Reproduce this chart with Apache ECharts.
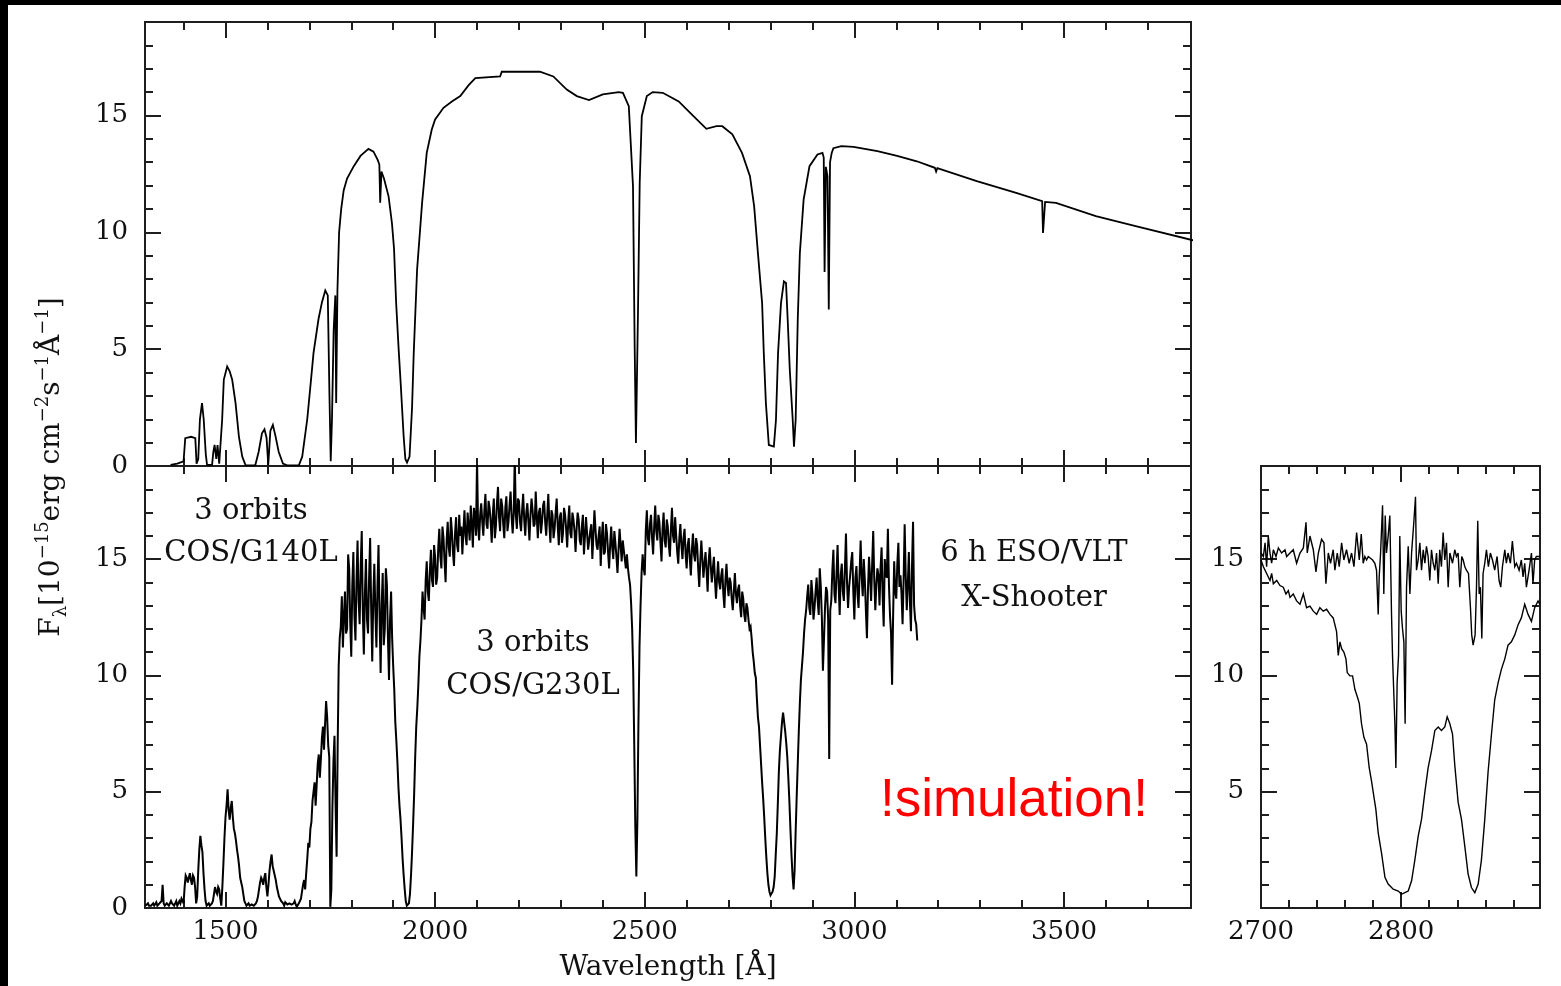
<!DOCTYPE html>
<html><head><meta charset="utf-8">
<script src="https://cdn.jsdelivr.net/npm/echarts@6/dist/echarts.min.js"></script>
<style>
html,body{margin:0;padding:0;background:#000;width:1561px;height:986px;overflow:hidden}
#paper{position:absolute;left:8px;top:5px;right:0;bottom:0;background:#fff}
#chart{position:absolute;left:0;top:0;width:1561px;height:986px}
</style></head><body>
<div id="paper"></div><div id="chart"></div>
<script>
// ---------- DATA ----------
// Top panel: model spectrum (wavelength in Angstrom, flux in 1e-15 erg/cm2/s/A)
const modelWave = [1369,1385,1400,1404,1418,1428,1431,1435,1439,1444,1448,1453,1456,1468,1471,1474,1478,1481,1485,1488,1492,1496,1504,1510,1516,1524,1532,1540,1548,1571,1579,1587,1593,1598,1602,1607,1613,1619,1627,1637,1647,1675,1683,1695,1703,1710,1722,1730,1738,1744,1748,1751,1754,1758,1762,1764,1767,1771,1776,1782,1790,1806,1822,1841,1853,1863,1867,1869,1872,1878,1889,1897,1902,1907,1913,1918,1925,1929,1933,1939,1945,1949,1957,1969,1980,1992,2000,2020,2040,2060,2080,2096,2155,2159,2250,2282,2314,2338,2367,2400,2438,2448,2462,2467,2472,2476,2479,2484,2488,2493,2505,2519,2543,2581,2609,2647,2671,2685,2709,2732,2751,2761,2770,2780,2784,2789,2796,2808,2813,2818,2825,2832,2837,2841,2846,2853,2856,2860,2865,2870,2879,2893,2912,2924,2927,2929,2932,2936,2939,2942,2946,2950,2969,2998,3055,3102,3149,3192,3195,3198,3292,3386,3448,3450,3453,3455,3481,3576,3671,3808];
const modelFlux = [0.05,0.1,0.2,1.19,1.25,1.19,0.1,0.3,2.0,2.69,2.0,0.5,0.05,0.05,0.6,0.9,0.3,0.9,0.1,0.05,1.97,3.7,4.26,4.05,3.69,2.69,1.26,0.4,0.03,0.03,0.6,1.4,1.57,1.2,0.05,1.5,1.76,1.3,0.6,0.1,0.03,0.03,0.4,2.0,3.5,4.84,6.3,7.0,7.51,7.3,3.0,0.2,2.0,5.8,7.3,2.7,7.5,10.0,11.0,11.8,12.3,12.83,13.27,13.57,13.45,13.1,12.9,11.27,12.6,12.3,11.54,10.4,9.3,7.0,5.0,3.5,1.26,0.3,0.15,0.4,2.5,4.83,8.4,11.27,13.4,14.4,14.83,15.33,15.6,15.83,16.3,16.6,16.67,16.87,16.87,16.67,16.11,15.83,15.66,15.9,16.0,15.97,15.4,13.69,11.97,5.11,0.98,6.69,12.1,14.97,15.83,16.0,15.97,15.6,15.1,14.43,14.54,14.54,14.19,13.4,12.4,11.11,9.11,6.97,4.83,2.69,0.9,0.83,1.97,4.83,6.97,7.9,7.83,6.26,4.11,1.97,0.83,1.97,6.26,9.11,11.4,12.83,13.33,13.4,13.2,8.3,12.8,12.4,6.7,13.0,13.4,13.6,13.69,13.66,13.47,13.27,13.04,12.76,12.6,12.75,12.19,11.69,11.33,9.97,9.97,11.3,11.26,10.69,10.26,9.66];

// Bottom panel: simulated COS spectrum.
// cosFlux: samples at cosStart + i*cosStep ; cosFluxMid: samples half a step later
const cosStart = 1310, cosStep = 5;
const cosFlux = [
 0.1,0.2,0.05,0.15,0.1,0.25,0.1,0.2,1.0,0.1,
 0.2,0.1,0.3,0.15,0.2,0.1,0.3,0.4,0.2,1.4,
 1.1,1.5,1.0,1.3,0.2,1.6,3.1,2.4,0.8,0.1,
 0.2,0.05,0.3,0.9,0.6,0.8,0.1,1.9,3.9,5.1,
 3.8,4.6,3.4,2.9,2.2,1.3,0.9,0.3,0.1,0.2,
 0.05,0.2,0.1,0.3,0.8,1.3,1.0,1.5,0.5,1.6,
 2.3,1.6,1.2,0.7,0.4,0.3,0.1,0.3,0.1,0.25,
 0.1,0.3,0.05,0.2,0.4,1.0,0.8,2.1,2.6,3.7,
 5.0,4.4,6.2,5.6,7.3,6.8,8.9,7.0,0.05,4.3,
 7.4,2.2,10.4,12.1,11.2,13.6,12.0,14.6,10.8,15.3,
 11.5,15.8,12.2,16.2,10.9,15.0,11.8,15.9,10.6,14.8,
 11.2,15.6,10.1,14.4,12.0,13.9,9.8,13.6,10.4,8.0,
 6.3,4.4,3.0,1.4,0.3,0.05,0.6,2.4,4.9,7.8,
 9.6,11.5,13.6,12.4,14.9,13.2,15.4,13.8,15.1,14.2,
 16.3,14.6,15.9,14.0,16.6,15.1,16.2,14.7,16.8,15.3,
 16.0,15.2,17.1,15.6,16.4,17.3,15.5,16.8,19.3,15.8,
 17.4,16.0,17.8,16.3,17.2,15.7,17.6,16.4,18.1,16.2,
 17.3,15.9,17.7,16.6,17.9,16.1,19.4,16.3,17.5,16.2,
 17.8,16.0,17.4,15.8,17.6,16.4,17.9,15.9,17.2,16.6,
 17.5,16.0,17.8,15.7,16.9,16.3,17.6,15.6,17.0,16.1,
 16.9,15.5,17.3,15.9,16.7,15.3,17.0,15.8,16.4,15.2,
 16.8,15.4,16.2,15.0,17.1,15.6,16.0,14.7,16.6,15.3,
 16.1,14.6,16.4,15.0,15.7,14.4,16.3,14.9,15.4,14.6,
 14.6,13.9,12.0,7.0,1.35,8.0,13.0,15.2,14.3,17.1,
 15.6,16.9,15.2,17.3,15.8,16.6,14.9,17.0,15.5,16.4,
 15.1,17.2,15.7,16.0,14.8,16.5,15.0,16.3,14.6,15.9,
 14.3,16.1,14.9,15.6,13.8,15.8,14.2,15.3,13.6,15.5,
 14.0,15.1,13.3,14.9,13.7,14.6,12.9,14.8,13.4,14.0,
 12.8,14.4,13.1,13.9,12.5,13.3,12.3,12.9,12.0,11.6,
 10.6,9.9,8.2,7.0,5.4,3.9,2.2,1.0,0.55,0.7,
 1.35,3.2,5.9,7.4,8.4,7.6,6.5,4.6,2.3,0.8,
 3.3,6.2,8.8,10.4,11.8,12.8,13.9,12.6,13.5,12.9,
 14.2,12.6,13.8,10.2,12.9,13.6,6.4,13.2,15.4,13.1,
 15.6,12.6,14.8,13.2,16.1,12.9,14.3,15.3,12.4,14.7,
 12.9,15.8,13.4,14.1,11.6,15.1,13.2,16.2,12.8,14.6,
 13.0,15.5,12.1,14.4,16.3,12.6,9.6,14.9,13.3,15.7,
 14.3,12.2,16.5,12.8,15.3,11.9,16.6,12.4,11.5
];
const cosFluxMid = [
 0.15,0.1,0.1,0.2,0.15,0.1,0.2,0.3,0.2,0.15,
 0.15,0.2,0.2,0.1,0.3,0.2,0.2,0.3,0.9,1.3,
 1.3,1.2,1.4,0.9,0.5,2.5,2.7,1.5,0.3,0.15,
 0.1,0.2,0.6,0.7,0.9,0.4,0.9,3.0,4.4,4.2,
 4.3,3.9,3.2,2.5,1.8,1.1,0.6,0.2,0.15,0.1,
 0.15,0.1,0.2,0.5,1.1,1.2,1.3,0.9,1.0,2.0,
 1.8,1.4,0.9,0.5,0.3,0.2,0.25,0.15,0.2,0.15,
 0.2,0.15,0.1,0.3,0.7,1.2,1.5,2.8,3.4,4.6,
 5.4,5.3,6.6,6.4,7.8,7.9,8.2,6.5,0.8,6.3,
 4.5,6.8,11.6,13.4,12.5,11.8,15.2,12.3,13.9,12.6,
 14.1,13.2,14.7,12.8,13.5,12.4,14.2,12.9,13.3,12.7,
 13.8,12.6,13.0,11.3,14.6,11.6,12.4,11.6,9.4,7.2,
 5.2,3.8,2.1,0.8,0.1,0.2,1.4,3.6,6.5,8.6,
 10.8,12.4,12.9,14.1,13.6,14.5,14.1,15.6,13.9,15.5,
 15.1,16.4,14.9,15.8,15.5,16.8,15.3,16.1,15.6,16.9,
 16.4,16.2,16.0,17.0,15.8,16.5,17.2,16.0,16.4,16.9,
 16.6,17.1,16.5,17.5,16.6,16.9,15.9,17.4,16.8,17.6,
 16.5,17.2,16.2,17.3,16.8,17.0,16.9,17.6,16.6,17.1,
 16.7,17.0,16.6,16.9,17.1,16.5,16.8,17.0,16.1,17.3,
 16.6,16.9,16.5,17.1,15.9,17.0,16.4,16.8,15.7,17.2,
 16.3,16.6,16.1,17.0,16.2,16.3,16.7,15.6,16.9,16.0,
 16.1,15.8,16.5,16.0,16.3,15.4,16.4,15.9,15.2,16.5,
 15.3,15.6,15.5,16.2,15.1,15.4,15.6,15.8,15.0,15.2,
 14.2,13.1,10.2,3.5,3.8,11.2,14.4,14.6,16.2,15.9,
 16.5,15.9,16.4,16.2,16.9,15.7,16.3,15.8,16.7,15.6,
 16.3,16.0,16.8,15.3,15.9,15.6,15.9,15.2,15.6,15.0,
 15.4,15.2,15.9,14.6,14.9,15.0,14.8,14.5,14.9,14.7,
 14.6,14.1,14.2,14.0,14.3,13.5,14.1,13.9,14.2,13.3,
 13.6,13.5,13.7,13.0,13.6,12.6,13.1,12.4,12.1,11.0,
 10.1,9.0,7.8,6.2,4.7,3.0,1.5,0.7,0.6,0.9,
 2.3,4.5,6.8,8.0,8.0,7.1,5.6,3.4,1.4,1.6,
 4.8,7.6,9.8,11.0,12.4,13.4,12.9,14.1,12.4,13.6,
 13.2,14.6,12.5,11.5,13.8,12.4,12.8,14.5,13.5,14.4,
 13.9,14.3,13.6,14.6,14.0,13.8,14.9,13.6,14.2,13.5,
 14.4,14.2,15.0,12.8,13.7,14.2,14.8,14.1,13.9,14.3,
 14.6,13.4,15.0,14.2,13.9,11.8,12.6,13.6,14.8,13.8,
 13.5,14.1,14.3,13.9,13.2,14.7,13.0,12.2
];

// Inset: X-Shooter spectrum (upper)
const xsWave = [2700.0,2701.7,2702.9,2704.0,2705.2,2706.4,2707.6,2708.8,2710.7,2712.4,2714.7,2717.1,2718.3,2720.7,2723.0,2725.4,2727.8,2730.2,2732.1,2733.0,2734.9,2737.3,2739.2,2740.9,2743.2,2744.9,2746.3,2748.0,2749.6,2751.5,2752.7,2754.4,2755.8,2757.5,2759.1,2761.0,2762.9,2764.6,2766.3,2768.2,2770.1,2771.5,2772.9,2774.1,2775.3,2776.5,2777.7,2779.6,2781.2,2782.4,2783.6,2784.3,2785.3,2786.7,2787.6,2788.6,2789.5,2790.7,2791.9,2793.1,2793.8,2794.8,2795.5,2796.2,2797.1,2798.1,2799.0,2800.0,2800.9,2801.9,2802.8,2803.8,2805.0,2806.2,2807.4,2809.0,2810.2,2810.9,2812.1,2813.3,2814.5,2815.7,2816.9,2818.0,2819.2,2820.4,2821.6,2822.8,2824.0,2825.2,2826.4,2827.5,2828.7,2829.9,2831.1,2832.3,2833.5,2834.7,2836.6,2838.2,2839.4,2840.6,2841.8,2843.2,2844.2,2845.4,2846.5,2848.0,2849.4,2850.3,2851.3,2852.7,2853.7,2854.6,2855.6,2856.5,2857.5,2858.4,2859.6,2860.8,2862.2,2863.6,2865.1,2866.7,2868.4,2869.8,2871.0,2872.2,2873.9,2875.0,2876.2,2877.9,2879.3,2881.0,2882.2,2884.1,2885.7,2886.9,2888.1,2889.3,2891.2,2892.9,2894.0,2895.2,2896.4,2898.8];
const xsFlux = [15.26,15.11,15.70,14.67,15.99,15.26,14.82,15.40,15.11,15.48,15.26,15.40,15.11,15.26,15.40,14.82,15.26,15.48,16.58,15.26,15.99,15.40,14.45,15.26,15.85,15.70,13.94,15.26,14.82,15.40,14.52,15.26,14.67,15.70,14.96,15.40,14.82,15.26,14.67,16.14,14.96,16.07,14.82,15.11,14.96,15.11,15.04,14.96,14.82,14.52,12.62,14.23,15.26,17.31,13.50,16.87,15.26,15.99,16.87,12.62,10.86,9.10,7.92,6.02,9.68,10.86,15.99,12.76,12.03,11.44,7.92,13.79,15.55,13.50,15.26,16.58,17.68,14.52,14.96,15.70,14.52,15.40,14.82,15.55,15.11,14.08,15.40,14.82,14.52,15.26,13.94,15.40,14.67,16.14,14.96,15.70,13.79,15.26,14.82,15.40,15.11,15.26,13.79,15.11,14.96,14.67,14.52,14.38,12.91,11.74,11.30,11.74,13.79,16.65,13.50,13.79,11.59,14.38,14.82,15.40,14.67,15.26,14.96,14.52,15.11,14.08,13.79,14.67,15.40,14.82,15.26,14.82,15.77,14.67,14.82,14.52,14.96,14.23,14.82,13.79,14.52,15.26,13.94,14.96,15.11,15.11];

// Inset: COS/G230L spectrum (lower)
const cosZoomWave = [2700.0,2701.7,2704.0,2706.4,2707.6,2708.8,2711.2,2713.5,2715.9,2717.8,2719.5,2720.7,2723.0,2725.4,2727.8,2730.2,2732.5,2734.9,2737.3,2739.7,2742.0,2744.4,2746.8,2749.2,2751.5,2753.9,2755.1,2756.3,2757.5,2759.1,2760.6,2761.5,2763.4,2765.3,2767.0,2768.6,2770.1,2771.7,2773.4,2775.3,2777.2,2778.9,2780.0,2781.9,2783.6,2786.0,2788.4,2790.7,2794.3,2797.9,2800.2,2802.6,2805.0,2807.4,2809.7,2812.1,2814.5,2816.9,2819.2,2821.6,2824.0,2826.4,2828.7,2831.1,2832.8,2834.7,2836.6,2838.2,2840.6,2843.0,2845.4,2847.7,2850.1,2852.5,2854.9,2857.2,2859.6,2862.0,2864.4,2866.7,2869.1,2871.5,2873.9,2876.2,2878.6,2881.0,2883.4,2885.7,2888.1,2890.5,2892.9,2895.2,2897.6,2898.8];
const cosZoomFlux = [14.96,14.67,14.38,14.08,14.38,13.94,14.08,13.86,13.79,13.50,13.64,13.35,13.50,13.20,13.06,13.50,12.91,12.98,12.76,12.62,12.91,12.76,12.84,12.62,12.47,11.88,10.86,11.44,11.15,11.00,10.71,10.12,9.98,9.98,9.39,9.10,8.80,7.92,7.34,7.04,6.02,5.43,4.99,4.25,3.23,2.35,1.32,1.03,0.81,0.73,0.59,0.66,0.73,1.17,2.05,3.08,3.81,4.99,6.02,6.75,7.63,7.78,7.63,7.78,8.22,7.92,7.48,6.16,4.55,3.81,2.64,1.47,0.88,0.66,1.03,2.05,3.81,5.87,7.48,8.95,9.68,10.27,10.71,11.30,11.44,11.74,12.18,12.47,13.06,12.62,12.32,12.91,13.20,13.06];

// Ticks and labels
const mainXMajor = [1500,2000,2500,3000,3500];
const mainXMinor = [1400,1600,1700,1800,1900,2100,2200,2300,2400,2600,2700,2800,2900,3100,3200,3300,3400,3600,3700];
const yMajor = [0,5,10,15];
const yMinor = [1,2,3,4,6,7,8,9,11,12,13,14,16,17,18];
const zoomXMajor = [2700,2800];
const zoomXMinor = [2720,2740,2760,2780,2820,2840,2860,2880];
const zoomYLabels = [5,10,15];

// ---------- CHART ----------
const cosData = [];
cosFlux.forEach((f, i) => {
  cosData.push([cosStart + i * cosStep, f]);
  if (i < cosFluxMid.length) cosData.push([cosStart + (i + 0.5) * cosStep, cosFluxMid[i]]);
});
const zip = (a, b) => a.map((v, i) => [v, b[i]]);

const AX = '#1e1e1e';
const TICKFONT = {color:'#111', fontFamily:'DejaVu Serif', fontSize:26, formatter:(v) => String(v)};
const XR = [1308, 3803], YR = [0, 19], ZR = [2700, 2899];

function axis(grid, range, pos, vals, len, labels, margin) {
  return {
    type:'value', gridIndex:grid, min:range[0], max:range[1], position:pos,
    axisLine:{show:false, onZero:false}, splitLine:{show:false},
    axisTick:{show:true, inside:true, length:len, customValues:vals, lineStyle:{color:AX, width:2}},
    axisLabel: labels ? Object.assign({show:true, customValues:labels, margin:margin}, TICKFONT) : {show:false},
    axisPointer:{show:false}
  };
}
function xSet(grid, range, major, minor, labels) {
  return [
    axis(grid, range, 'bottom', major, 16, labels, 11),
    axis(grid, range, 'bottom', minor, 8, null),
    axis(grid, range, 'top', major, 16, null),
    axis(grid, range, 'top', minor, 8, null)
  ];
}
function ySet(grid, range, major, minor, labels) {
  return [
    axis(grid, range, 'left', major, 16, labels, 17),
    axis(grid, range, 'left', minor, 8, null),
    axis(grid, range, 'right', major, 16, null),
    axis(grid, range, 'right', minor, 8, null)
  ];
}

const gridStyle = {show:true, borderColor:AX, borderWidth:2, backgroundColor:'transparent', containLabel:false};
const lineSeries = (name, xi, data, w) => ({
  name, type:'line', xAxisIndex:xi, yAxisIndex:xi, data, showSymbol:false, symbol:'none',
  sampling:null, clip:true, animation:false, silent:true,
  lineStyle:{color:'#000', width:w, join:'miter', miterLimit:4}
});

const serif = 'DejaVu Serif';
function label(text, x, y) {
  return {type:'text', x, y, silent:true, z:100,
    style:{text, fontFamily:serif, fontSize:29, fill:'#111', align:'center', verticalAlign:'middle'}};
}

const option = {
  backgroundColor:'transparent',
  animation:false,
  grid:[
    Object.assign({left:145, top:22, width:1046, height:444}, gridStyle),
    Object.assign({left:145, top:466, width:1046, height:442}, gridStyle),
    Object.assign({left:1261, top:466, width:279, height:442}, gridStyle)
  ],
  xAxis:[].concat(
    xSet(0, XR, mainXMajor, mainXMinor, null),
    xSet(1, XR, mainXMajor, mainXMinor, mainXMajor),
    xSet(2, ZR, zoomXMajor, zoomXMinor, zoomXMajor)
  ),
  yAxis:[].concat(
    ySet(0, YR, yMajor, yMinor, yMajor),
    ySet(1, YR, yMajor, yMinor, yMajor),
    ySet(2, YR, yMajor, yMinor, zoomYLabels)
  ),
  series:[
    lineSeries('model', 0, zip(modelWave, modelFlux), 1.8),
    lineSeries('COS', 4, cosData, 2.0),
    lineSeries('X-Shooter zoom', 8, zip(xsWave, xsFlux), 1.4),
    lineSeries('COS zoom', 8, zip(cosZoomWave, cosZoomFlux), 1.4)
  ],
  graphic:[
    label('3 orbits', 251, 511),
    label('COS/G140L', 251, 553),
    label('3 orbits', 533, 643),
    label('COS/G230L', 533, 686),
    label('6 h ESO/VLT', 1034, 553),
    label('X-Shooter', 1034, 598),
    {type:'text', x:1014, y:801, silent:true, z:100,
      style:{text:'!simulation!', fontFamily:'Liberation Sans', fontSize:53, fill:'#ff0000', align:'center', verticalAlign:'middle'}},
    {type:'text', x:668, y:968, silent:true, z:100,
      style:{text:'Wavelength [Å]', fontFamily:serif, fontSize:28, fill:'#111', align:'center', verticalAlign:'middle'}},
    {type:'text', x:52, y:467, rotation:Math.PI/2, silent:true, z:100,
      style:{
        text:'{m|F}{sub|λ}{m|[10}{sup|−15}{m|erg cm}{sup|−2}{m|s}{sup|−1}{m|Å}{sup|−1}{m|]}',
        align:'center', verticalAlign:'middle', fill:'#111',
        rich:{
          m:{fontFamily:serif, fontSize:28, fill:'#111', lineHeight:40, verticalAlign:'middle'},
          sup:{fontFamily:serif, fontSize:18, fill:'#111', lineHeight:40, verticalAlign:'top', padding:[2,0,0,0]},
          sub:{fontFamily:serif, fontSize:18, fill:'#111', lineHeight:40, verticalAlign:'bottom', padding:[0,0,2,0]}
        }
      }}
  ]
};

const chart = echarts.init(document.getElementById('chart'), null, {renderer:'canvas', width:1561, height:986});
chart.setOption(option);
</script>
</body></html>
